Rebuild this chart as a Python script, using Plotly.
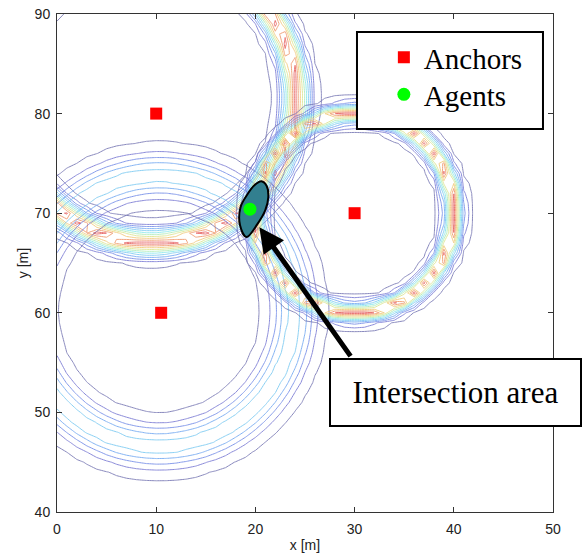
import numpy as np
import plotly.graph_objects as go

# Anchor positions
anchor_x = [10.0, 10.5, 30.0]
anchor_y = [80.0, 60.0, 70.0]

# Range likelihood model per anchor (centre of the range ring, range, spread, peak)
ring_cx = [9.5, 10.3, 30.0]
ring_cy = [81.6, 60.2, 70.0]
ring_radius = [14.6, 13.6, 10.0]    # measured range [m]
ring_spread = [0.85, 1.45, 0.6]     # range uncertainty [m]
ring_peak = [1.0, 0.45, 1.0]        # relative likelihood peak

# Estimated agent position
agent_x = [19.45]
agent_y = [70.4]

# Outline of the intersection region
region_x = [19.1, 18.45, 18.5, 19.2, 19.9, 20.6, 21.15, 21.3, 21.0, 20.2, 19.1]
region_y = [67.6, 68.8, 70.6, 71.9, 72.8, 73.2, 72.7, 71.6, 70.3, 68.9, 67.6]

x_ticks = [0, 10, 20, 30, 40, 50]
y_ticks = [40, 50, 60, 70, 80, 90]

# Evaluation grid for the range likelihoods
gx = np.arange(0, 50.001, 1.0)
gy = np.arange(40, 90.001, 1.0)
GX, GY = np.meshgrid(gx, gy)

line_scale = [
    [0.00, "#6c6cae"],
    [0.12, "#6e6ed8"],
    [0.25, "#6490f0"],
    [0.38, "#6cc0f4"],
    [0.50, "#7ce6ea"],
    [0.62, "#b0eca6"],
    [0.74, "#eee074"],
    [0.86, "#f4a862"],
    [1.00, "#e44c4c"],
]

fig = go.Figure()

for cx, cy, r, s, pk in zip(ring_cx, ring_cy, ring_radius, ring_spread, ring_peak):
    d = np.hypot(GX - cx, GY - cy)
    z = pk * np.exp(-((d - r) ** 2) / (2 * s ** 2))
    fig.add_trace(go.Contour(
        x=gx, y=gy, z=z,
        contours=dict(coloring="lines", start=0.03, end=0.95, size=0.092, showlabels=False),
        line=dict(width=1, smoothing=0),
        colorscale=line_scale, zmin=0.03, zmax=0.95, zauto=False,
        showscale=False, opacity=0.8, hoverinfo="skip", showlegend=False,
    ))

# Intersection region around the agent
fig.add_trace(go.Scatter(
    x=region_x, y=region_y, mode="lines", fill="toself",
    fillcolor="#327f8f", line=dict(color="black", width=2, shape="spline", smoothing=1.0),
    hoverinfo="skip", showlegend=False,
))

fig.add_trace(go.Scatter(
    x=anchor_x, y=anchor_y, mode="markers", name="Anchors", legend="legend",
    marker=dict(symbol="square", size=12, color="#ff0000"),
))
fig.add_trace(go.Scatter(
    x=agent_x, y=agent_y, mode="markers", name="Agents", legend="legend2",
    marker=dict(symbol="circle", size=13, color="#00ff00"),
))

# Legend frame
fig.add_shape(
    type="rect", xref="paper", yref="paper", layer="above",
    x0=0.6048, x1=0.9798, y0=0.7691, y1=0.9639,
    fillcolor="white", line=dict(color="black", width=2),
)

# Arrow pointing at the intersection region
fig.add_annotation(
    x=20.4, y=68.6, xref="x", yref="y",
    ax=29.7, ay=55.5, axref="x", ayref="y",
    text="", showarrow=True, arrowhead=2, arrowsize=1.0,
    arrowwidth=5, arrowcolor="black", standoff=0,
)
fig.add_annotation(
    x=27.4, y=55.46, xref="x", yref="y", xanchor="left", yanchor="top",
    text="Intersection area", showarrow=False,
    font=dict(family="Liberation Serif", size=31, color="black"),
    width=249, height=65, align="center", valign="middle",
    bgcolor="white", bordercolor="black", borderwidth=2, borderpad=0,
)

axis_common = dict(
    showline=True, linecolor="#333333", linewidth=1, mirror="ticks",
    ticks="inside", ticklen=5, tickcolor="#333333", showgrid=False, zeroline=False,
    tickfont=dict(family="Liberation Sans", size=14, color="#222222"),
    automargin=False,
)
title_font = dict(family="Liberation Sans", size=14, color="#222222")
legend_font = dict(family="Liberation Serif", size=29, color="black")

fig.update_layout(
    width=585, height=554,
    margin=dict(l=57, r=32, t=14, b=42),
    paper_bgcolor="white", plot_bgcolor="white",
    xaxis=dict(range=[0, 50], tickvals=x_ticks, ticklabelstandoff=4,
               title=dict(text="x [m]", font=title_font, standoff=4),
               **axis_common),
    yaxis=dict(range=[40, 90], tickvals=y_ticks, ticklabelstandoff=3,
               title=dict(text="y [m]", font=title_font, standoff=2),
               **axis_common),
    legend=dict(x=0.659, y=0.9639, xanchor="left", yanchor="top",
                bgcolor="rgba(0,0,0,0)", borderwidth=0, font=legend_font),
    legend2=dict(x=0.659, y=0.8896, xanchor="left", yanchor="top",
                 bgcolor="rgba(0,0,0,0)", borderwidth=0, font=legend_font),
    showlegend=True,
)

fig.write_html("out.html")
